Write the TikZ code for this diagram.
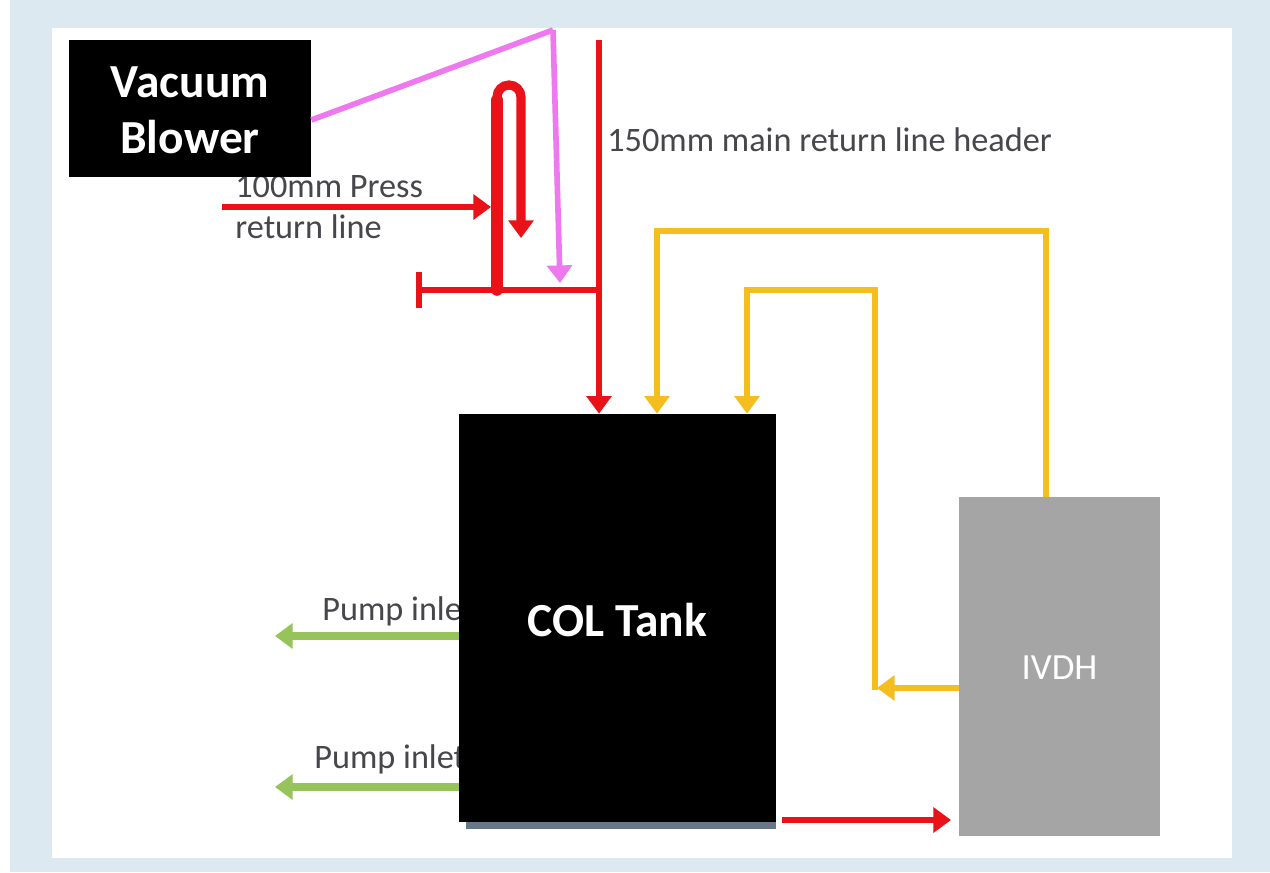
\documentclass[tikz,border=0pt]{standalone}
\usepackage{fontspec}
\setmainfont{Carlito}
\usepackage{xcolor}
\usetikzlibrary{arrows.meta}
\definecolor{panelblue}{RGB}{220,233,240}
\definecolor{pipered}{RGB}{232,18,24}
\definecolor{ventpink}{RGB}{238,120,238}
\definecolor{oilyellow}{RGB}{244,190,30}
\definecolor{pumpgreen}{RGB}{150,196,90}
\definecolor{boxgrey}{RGB}{165,165,165}
\definecolor{shadowgrey}{RGB}{105,120,135}
\definecolor{labelgrey}{RGB}{70,70,75}
\tikzset{%
    block/.style={%
        draw=none,
        inner sep=0pt,
        text=white,
        align=center,
        font=\fontsize{27}{32}\selectfont\bfseries
    },
    pipe label/.style={%
        text=labelgrey,
        inner sep=0pt,
        align=left,
        font=\fontsize{19.5}{23}\selectfont
    }
}
\begin{document}
\begin{tikzpicture}[x=0.02cm,y=-0.02cm,>={Triangle[length=10pt,width=14pt]},
  red line/.style={pipered,line width=3.6pt},
  fat line/.style={pipered,line width=6.6pt,line cap=round},
  loop line/.style={pipered,line width=5.2pt},
  pink line/.style={ventpink,line width=3.2pt},
  yellow line/.style={oilyellow,line width=3.8pt},
  green line/.style={pumpgreen,line width=4.2pt}]

  \useasboundingbox (0,0) rectangle (1270,872);
  \fill[white] (0,0) rectangle (1270,872);
  \fill[panelblue] (10,0) rectangle (1270,872);
  \fill[white] (52,28) rectangle (1232,858);

  % pipe labels go under the tank
  \node[pipe label,anchor=west] (header) at (607,140) {150mm main return line header};
  \node[pipe label,anchor=west] (press) at (235,207) {100mm Press\\return line};
  \node[pipe label,anchor=west] (inlet1) at (322,611) {Pump inlet};
  \node[pipe label,anchor=west] (inlet2) at (314,759) {Pump inlet};

  \fill[shadowgrey] (466,822) rectangle (776,829);
  \node[block,fill=black,minimum width=317*0.02cm,minimum height=408*0.02cm] (tank) at (617.5,618) {};
  \node[block,fill=black,minimum width=242*0.02cm,minimum height=137*0.02cm] (blower) at (190,108.5) {};
  \node[block,fill=boxgrey,minimum width=201*0.02cm,minimum height=339*0.02cm] (ivdh) at (1059.5,666.5) {};
  \node[block] (tank text) at (617.5,620) {COL Tank};
  \node[block] (blower text) at (190,110) {Vacuum\\Blower};
  \node[block,font=\fontsize{21}{24}\selectfont] (ivdh text) at (1059.5,668) {IVDH};

  \coordinate (header top) at (599,40);
  \coordinate (tee) at (599,290);
  \coordinate (cap) at (416,290);
  \coordinate (riser) at (497,290);
  \coordinate (press start) at (222,207);
  \coordinate (press end) at (491,207);
  \coordinate (loop end) at (521,238);
  \coordinate (vent top) at (553,30);
  \coordinate (vent end) at (560,283);
  \coordinate (pump1) at (275,636);
  \coordinate (pump2) at (275,787);
  \coordinate (feed start) at (782,820);
  \coordinate (feed) at (951,820);

\path[every node/.style={font=\small}]
	(blower.east |- 0,120) edge[pink line,-] (vent top)
	(vent top) edge[pink line,->] (vent end)
	(header top) edge[red line,->] (tank.north -| header top)
	(tee) edge[red line,-{Bar[width=21pt]}] (cap)
	(press start) edge[red line,->] (press end)
	(tank.west |- pump1) edge[green line,->] (pump1)
	(tank.west |- pump2) edge[green line,->] (pump2)
	(feed start) edge[red line,->] (feed);
  \draw[fat line] (riser) -- (497,100);
  \draw[loop line,->] (497,97) arc[start angle=180,end angle=360,radius=12] -- (loop end);
  \draw[yellow line,->] (ivdh.north -| 1046,0) |- (657,231) -- (tank.north -| 657,0);
  \draw[yellow line,->] (875,690) |- (747,290) -- (tank.north -| 747,0);
  \draw[yellow line,->] (ivdh.west |- 0,688) -- (877,688);
\end{tikzpicture}
\end{document}
